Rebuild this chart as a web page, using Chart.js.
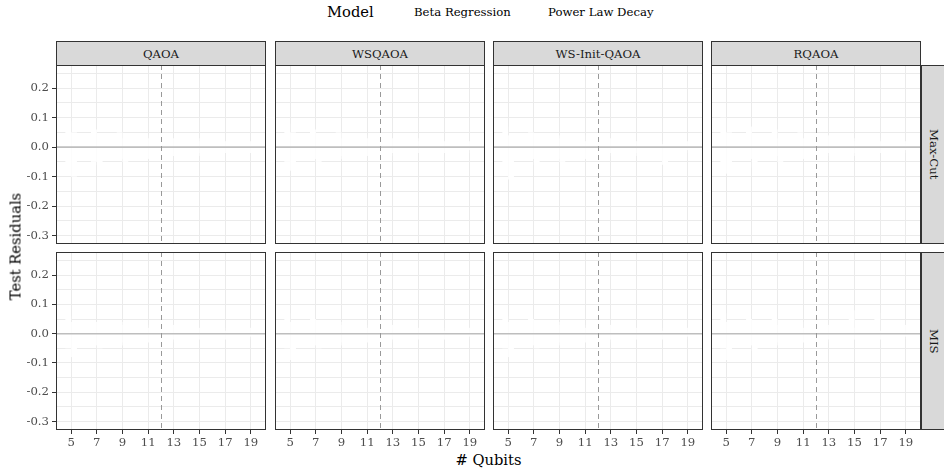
<!DOCTYPE html>
<html>
<head>
<meta charset="utf-8">
<script src="https://cdn.jsdelivr.net/npm/chart.js@4.4.1/dist/chart.umd.min.js"></script>
<style>
    body { margin: 0; width: 944px; height: 468px; overflow: hidden; background: #fff; position: relative; font-family: 'DejaVu Serif', serif; }
    .abs { position: absolute; }
    .strip { position: absolute; background: #D9D9D9; border: 1px solid #333; box-sizing: border-box; color: #1A1A1A; font-size: 11.7px; display: flex; align-items: center; justify-content: center; }
    .vstrip { writing-mode: vertical-rl; }
    .legend { position: absolute; top: 3px; color: #000; white-space: nowrap; }
</style>
</head>
<body>
<script>
// facets, legend and axis values
const methods = ['QAOA', 'WSQAOA', 'WS-Init-QAOA', 'RQAOA'];
const problems = ['Max-Cut', 'MIS'];
const modelNames = ['Beta Regression', 'Power Law Decay'];
const qubits = [5, 7, 9, 11, 13, 15, 17, 19];
const yGrid = [-0.3, -0.25, -0.2, -0.15, -0.1, -0.05, 0, 0.05, 0.1, 0.15, 0.2, 0.25];
const zeroLine = 0;
const qubitCutoff = 12;

// residual boxes [q1, q3] per qubit count (boxes are drawn in white)
const qaoaMaxCutBeta = [[-0.07, 0.09], [-0.05, 0.06], [-0.04, 0.05], [-0.03, 0.04], [-0.03, 0.03], [-0.02, 0.03], [-0.02, 0.02], [-0.02, 0.02]];
const qaoaMaxCutPower = [[-0.10, 0.05], [-0.06, 0.04], [-0.05, 0.03], [-0.04, 0.03], [-0.03, 0.02], [-0.03, 0.02], [-0.02, 0.02], [-0.02, 0.01]];
const wsqaoaMaxCutBeta = [[-0.05, 0.08], [-0.04, 0.06], [-0.03, 0.05], [-0.03, 0.04], [-0.02, 0.03], [-0.02, 0.03], [-0.02, 0.02], [-0.01, 0.02]];
const wsqaoaMaxCutPower = [[-0.08, 0.05], [-0.05, 0.04], [-0.04, 0.03], [-0.03, 0.03], [-0.03, 0.02], [-0.02, 0.02], [-0.02, 0.02], [-0.02, 0.01]];
const wsInitMaxCutBeta = [[-0.06, 0.07], [-0.04, 0.05], [-0.04, 0.04], [-0.03, 0.04], [-0.02, 0.03], [-0.02, 0.02], [-0.02, 0.02], [-0.01, 0.02]];
const wsInitMaxCutPower = [[-0.11, 0.04], [-0.06, 0.04], [-0.05, 0.03], [-0.04, 0.02], [-0.03, 0.02], [-0.03, 0.02], [-0.06, 0.01], [-0.02, 0.01]];
const rqaoaMaxCutBeta = [[-0.06, 0.10], [-0.04, 0.07], [-0.03, 0.06], [-0.03, 0.05], [-0.02, 0.04], [-0.02, 0.03], [-0.02, 0.03], [-0.01, 0.02]];
const rqaoaMaxCutPower = [[-0.09, 0.05], [-0.07, 0.04], [-0.05, 0.03], [-0.04, 0.03], [-0.03, 0.02], [-0.03, 0.02], [-0.02, 0.02], [-0.02, 0.01]];
const qaoaMisBeta = [[-0.05, 0.06], [-0.04, 0.04], [-0.03, 0.04], [-0.03, 0.03], [-0.02, 0.03], [-0.02, 0.02], [-0.02, 0.02], [-0.01, 0.02]];
const qaoaMisPower = [[-0.08, 0.04], [-0.05, 0.03], [-0.04, 0.03], [-0.03, 0.02], [-0.03, 0.02], [-0.02, 0.02], [-0.02, 0.01], [-0.02, 0.01]];
const wsqaoaMisBeta = [[-0.05, 0.07], [-0.04, 0.05], [-0.03, 0.04], [-0.03, 0.03], [-0.02, 0.03], [-0.02, 0.02], [-0.02, 0.02], [-0.01, 0.02]];
const wsqaoaMisPower = [[-0.09, 0.04], [-0.05, 0.03], [-0.04, 0.03], [-0.03, 0.02], [-0.03, 0.02], [-0.02, 0.02], [-0.02, 0.01], [-0.02, 0.01]];
const wsInitMisBeta = [[-0.05, 0.06], [-0.04, 0.05], [-0.03, 0.04], [-0.03, 0.03], [-0.02, 0.03], [-0.02, 0.02], [-0.02, 0.02], [-0.01, 0.02]];
const wsInitMisPower = [[-0.08, 0.04], [-0.05, 0.03], [-0.04, 0.03], [-0.03, 0.02], [-0.03, 0.02], [-0.02, 0.02], [-0.02, 0.01], [-0.02, 0.01]];
const rqaoaMisBeta = [[-0.05, 0.07], [-0.04, 0.05], [-0.03, 0.05], [-0.03, 0.04], [-0.02, 0.03], [-0.02, 0.08], [-0.02, 0.07], [-0.01, 0.03]];
const rqaoaMisPower = [[-0.09, 0.04], [-0.06, 0.04], [-0.04, 0.03], [-0.03, 0.02], [-0.03, 0.02], [-0.02, 0.02], [-0.02, 0.01], [-0.02, 0.01]];

const boxes = {
    'QAOA|Max-Cut': [qaoaMaxCutBeta, qaoaMaxCutPower],
    'WSQAOA|Max-Cut': [wsqaoaMaxCutBeta, wsqaoaMaxCutPower],
    'WS-Init-QAOA|Max-Cut': [wsInitMaxCutBeta, wsInitMaxCutPower],
    'RQAOA|Max-Cut': [rqaoaMaxCutBeta, rqaoaMaxCutPower],
    'QAOA|MIS': [qaoaMisBeta, qaoaMisPower],
    'WSQAOA|MIS': [wsqaoaMisBeta, wsqaoaMisPower],
    'WS-Init-QAOA|MIS': [wsInitMisBeta, wsInitMisPower],
    'RQAOA|MIS': [rqaoaMisBeta, rqaoaMisPower]
};

// layout
const panelLefts = [56, 275, 493, 711];
const panelW = 210;
const panelTops = [65, 252];
const panelHs = [179, 178];
const xMin = 3.82, xMax = 20.18;
const yMin = -0.329, yMax = 0.279;

Chart.defaults.font.family = "'DejaVu Serif', serif";

const isMajor = v => Math.abs(v * 10 - Math.round(v * 10)) < 1e-6;

const panelDecor = {
    id: 'panelDecor',
    afterDatasetsDraw(chart) {
        const { ctx, chartArea: a, scales: { x, y } } = chart;
        ctx.save();
        // horizontal zero line
        const y0 = y.getPixelForValue(zeroLine);
        ctx.strokeStyle = '#BEBEBE';
        ctx.lineWidth = 1.6;
        ctx.beginPath();
        ctx.moveTo(a.left, y0);
        ctx.lineTo(a.right, y0);
        ctx.stroke();
        // dashed cutoff line
        const xc = Math.round(x.getPixelForValue(qubitCutoff)) + 0.5;
        ctx.strokeStyle = '#999999';
        ctx.lineWidth = 1;
        ctx.setLineDash([5, 4]);
        ctx.beginPath();
        ctx.moveTo(xc, a.top);
        ctx.lineTo(xc, a.bottom);
        ctx.stroke();
        ctx.setLineDash([]);
        // panel border
        ctx.strokeStyle = '#333333';
        ctx.strokeRect(a.left + 0.5, a.top + 0.5, a.width - 1, a.height - 1);
        ctx.restore();
    }
};

function addDiv(cls, text, style) {
    const d = document.createElement('div');
    d.className = cls;
    d.textContent = text;
    Object.assign(d.style, style);
    document.body.appendChild(d);
    return d;
}

function makePanel(col, row) {
    const axisW = col === 0 ? 56 : 0;
    const axisH = row === 1 ? 20 : 0;
    const w = panelW + axisW;
    const h = panelHs[row] + axisH;
    const wrap = addDiv('abs', '', { left: (panelLefts[col] - axisW) + 'px', top: panelTops[row] + 'px', width: w + 'px', height: h + 'px' });
    const canvas = document.createElement('canvas');
    canvas.width = w;
    canvas.height = h;
    canvas.style.width = w + 'px';
    canvas.style.height = h + 'px';
    wrap.appendChild(canvas);

    const sets = boxes[methods[col] + '|' + problems[row]];
    new Chart(canvas, {
        type: 'bar',
        data: {
            datasets: modelNames.map((name, i) => ({
                label: name,
                data: qubits.map((q, j) => ({ x: q, y: sets[i][j] })),
                backgroundColor: '#FFFFFF',
                borderColor: '#FFFFFF',
                borderWidth: 0,
                categoryPercentage: 0.45,
                barPercentage: 1
            }))
        },
        options: {
            responsive: false,
            animation: false,
            layout: { padding: 0 },
            plugins: {
                legend: { display: false },
                tooltip: { enabled: false }
            },
            scales: {
                x: {
                    type: 'linear',
                    min: xMin,
                    max: xMax,
                    offset: false,
                    afterBuildTicks: s => { s.ticks = qubits.map(v => ({ value: v })); },
                    afterFit: s => { s.height = axisH; s.paddingLeft = 0; s.paddingRight = 0; },
                    border: { display: false },
                    grid: { offset: false, color: '#EBEBEB', lineWidth: 1, drawTicks: row === 1, tickLength: 4, tickColor: '#333333' },
                    ticks: { display: row === 1, color: '#4D4D4D', font: { size: 11.7 }, padding: 2, maxRotation: 0, autoSkip: false, callback: v => String(v) }
                },
                y: {
                    type: 'linear',
                    min: yMin,
                    max: yMax,
                    afterBuildTicks: s => { s.ticks = yGrid.map(v => ({ value: v })); },
                    afterFit: s => { s.width = axisW; s.paddingTop = 0; s.paddingBottom = 0; },
                    border: { display: false },
                    grid: {
                        color: '#EBEBEB',
                        lineWidth: 1,
                        drawTicks: col === 0,
                        tickLength: 4,
                        tickColor: c => (c.tick && isMajor(c.tick.value)) ? '#333333' : 'rgba(0,0,0,0)'
                    },
                    ticks: { display: col === 0, color: '#4D4D4D', font: { size: 11.7 }, padding: 3, autoSkip: false, callback: v => isMajor(v) ? v.toFixed(1) : '' }
                }
            }
        },
        plugins: [panelDecor]
    });
}

document.addEventListener('DOMContentLoaded', function() {
    // legend
    addDiv('legend', 'Model', { left: '327px', fontSize: '14.7px', top: '3px' });
    addDiv('legend', modelNames[0], { left: '414px', fontSize: '11.7px', top: '5px' });
    addDiv('legend', modelNames[1], { left: '548px', fontSize: '11.7px', top: '5px' });

    // column strips
    methods.forEach((m, c) => {
        addDiv('strip', m, { left: panelLefts[c] + 'px', top: '41px', width: panelW + 'px', height: '25px' });
    });
    // row strips
    problems.forEach((p, r) => {
        addDiv('strip vstrip', p, { left: '921px', top: panelTops[r] + 'px', width: '25px', height: panelHs[r] + 'px' });
    });

    for (let r = 0; r < problems.length; r++) {
        for (let c = 0; c < methods.length; c++) {
            makePanel(c, r);
        }
    }

    // axis titles
    addDiv('abs', '# Qubits', { left: '0px', width: '977px', textAlign: 'center', top: '451px', fontSize: '14.7px', color: '#000' });
    addDiv('abs', 'Test Residuals', { left: '-85px', top: '238px', width: '200px', textAlign: 'center', fontSize: '14.7px', color: '#000', transform: 'rotate(-90deg)' });
});
</script>
</body>
</html>
